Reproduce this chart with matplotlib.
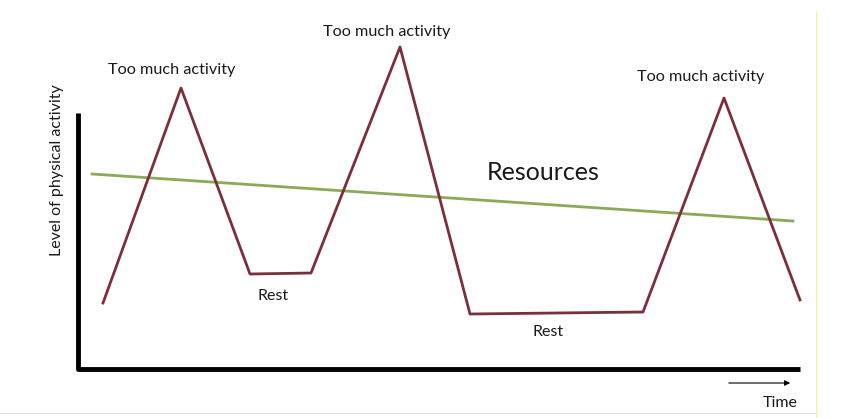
import matplotlib.pyplot as plt

# activity curve and resources line, in picture units (x right, y down)
activity_x = [103, 181, 250, 311, 400, 470, 643, 724, 800]
activity_y = [303, 88, 274, 273, 47, 314, 312, 98, 300]
resources_x = [92, 793]
resources_y = [174, 221]

peak_labels = ["Too much activity", "Too much activity", "Too much activity"]
peak_x = [172, 387, 701]
peak_y = [70, 32, 77]
rest_labels = ["Rest", "Rest"]
rest_x = [273, 548]
rest_y = [296, 332]

plt.rcParams['font.family'] = ['Lato', 'DejaVu Sans']
txt_color = '#1a1a1a'

fig = plt.figure(figsize=(8.46, 4.18), dpi=100)
ax = fig.add_axes([0, 0, 1, 1])
ax.set_xlim(0, 846)
ax.set_ylim(418, 0)
ax.axis('off')

# axes drawn by hand like the sketch
ax.plot([78, 78, 800], [113, 369, 369], color='black', linewidth=3.5, solid_capstyle='butt')
ax.annotate('', xy=(793, 383), xytext=(726, 383),
            arrowprops=dict(arrowstyle='-|>', color='black', lw=0.8, mutation_scale=8))
ax.text(780, 403, "Time", ha='center', va='center', fontsize=11.5, color=txt_color)
ax.text(57, 170, "Level of physical activity", rotation=90, ha='center', va='center',
        fontsize=11.5, color=txt_color)

ax.plot(resources_x, resources_y, color='#8aaa5a', linewidth=2)
ax.plot(activity_x, activity_y, color='#7b2f3b', linewidth=2)

for lab, x, y in zip(peak_labels, peak_x, peak_y):
    ax.text(x, y, lab, ha='center', va='center', fontsize=11.7, color=txt_color)
for lab, x, y in zip(rest_labels, rest_x, rest_y):
    ax.text(x, y, lab, ha='center', va='center', fontsize=11.5, color=txt_color)
ax.text(543, 172, "Resources", ha='center', va='center', fontsize=18, color=txt_color)

# frame edges of the original slide
ax.plot([816, 816], [11, 418], color='#fff27a', linewidth=0.8)
ax.plot([0, 816], [413, 413], color='#dddddd', linewidth=0.8)

fig.savefig('out.png', dpi=100)
